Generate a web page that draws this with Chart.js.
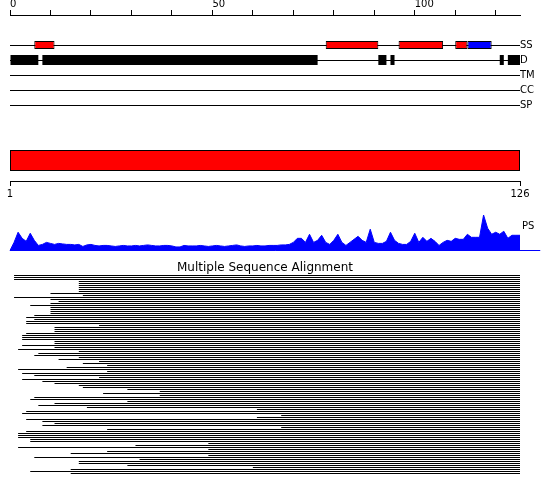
<!DOCTYPE html>
<html>
<head>
<meta charset="utf-8">
<script src="https://cdn.jsdelivr.net/npm/chart.js@4.4.1/dist/chart.umd.min.js"></script>
<style>
  html, body { margin: 0; padding: 0; background: #fff; }
  #wrap { position: relative; width: 550px; height: 495px; overflow: hidden; }
  canvas { position: absolute; left: 0; }
</style>
</head>
<body>
<div id="wrap">
  <canvas id="tracks" width="550" height="115" style="top:0px"></canvas>
  <canvas id="domain" width="550" height="75" style="top:130px"></canvas>
  <canvas id="ps" width="550" height="50" style="top:205px"></canvas>
  <canvas id="msa" width="550" height="234" style="top:261px"></canvas>
</div>
<script>
// sequence + feature tracks
const seqLength = 126;
const trackLabels = ['', '', 'SS', 'D', 'TM', 'CC', 'SP'];
const helixSegments = [[6, 11], [78, 91], [96, 107], [110, 113]];
const strandSegments = [[113, 119]];
const disorderSegments = [[0, 7], [8, 76], [91, 93], [94, 95], [121, 122], [123, 126]];
const domainSegments = [[1, 126]];

// prediction strength per position (0..127)
const psScores = [
  0, 8, 18, 12, 9, 17, 10, 5, 6, 8,
  7, 6, 7, 6.5, 6, 6, 5.5, 6, 4, 5.5,
  6, 5, 4.5, 5, 5, 4.5, 4, 4.5, 5, 4.5,
  4.5, 5, 4.5, 5, 5.5, 5, 4.5, 4.5, 5, 5,
  4.5, 3.5, 3.5, 5, 4.5, 4.5, 4.5, 5, 4.5, 4,
  4.5, 5, 4.5, 4, 4.5, 5, 5.5, 4.5, 4, 4.5,
  4.5, 5, 4.5, 4.5, 5, 5, 5, 5.5, 5.5, 6,
  8, 12, 12, 8, 16, 8, 10, 15, 8, 6,
  10, 16, 8, 5, 8, 11, 14, 10, 8, 21,
  8, 7, 7, 9, 18, 10, 7, 6, 6, 9,
  17, 8, 13, 9, 12, 9, 5, 8, 10, 9,
  12, 11, 11, 16, 13, 13, 13, 35, 22, 16,
  18, 16, 19, 12, 15, 15, 15, 0
];

// first aligned position of each homolog in the MSA
const msaStarts = [
  1, 1, 1, 17, 17, 17, 17, 17, 17, 10,
  18, 1, 10, 12, 10, 5, 10, 10, 10, 10,
  6, 4, 6, 4, 4, 22, 11, 11, 11, 4,
  3, 3, 3, 11, 11, 3, 11, 2, 17, 7,
  6, 17, 12, 22, 18, 24, 14, 2, 24, 3,
  6, 22, 3, 8, 11, 17, 18, 29, 37, 23,
  37, 6, 5, 29, 11, 7, 19, 61, 4, 3,
  67, 61, 4, 8, 11, 8, 67, 24, 4, 2,
  2, 2, 5, 5, 49, 31, 2, 49, 24, 15,
  49, 6, 32, 17, 17, 29, 60, 15, 5, 15
];

Chart.defaults.font.family = "'DejaVu Sans', sans-serif";
Chart.defaults.font.size = 10;
Chart.defaults.color = '#000';
Chart.defaults.animation = false;
Chart.defaults.plugins.legend.display = false;
Chart.defaults.plugins.tooltip.enabled = false;

// top ruler + SS / D / TM / CC / SP tracks
new Chart(document.getElementById('tracks'), {
    type: 'bar',
    data: {
        datasets: [{
            data: helixSegments.map(s => ({ x: s, y: 'SS' })),
            backgroundColor: '#ff0000',
            borderColor: '#000',
            borderWidth: 1,
            borderSkipped: false,
            barThickness: 8,
        }, {
            data: strandSegments.map(s => ({ x: s, y: 'SS' })),
            backgroundColor: '#0000ff',
            borderColor: '#000',
            borderWidth: 1,
            borderSkipped: false,
            barThickness: 8,
        }, {
            data: disorderSegments.map(s => ({ x: s, y: 'D' })),
            backgroundColor: '#000',
            borderWidth: 0,
            barThickness: 10,
        }]
    },
    options: {
        indexAxis: 'y',
        responsive: false,
        layout: { padding: { left: 10, top: 0, right: 0, bottom: 10 } },
        datasets: { bar: { grouped: false, inflateAmount: 0 } },
        scales: {
            x: {
                type: 'linear',
                position: 'top',
                min: 0,
                max: seqLength,
                afterFit: s => { s.height = 15; },
                border: { color: '#000' },
                grid: { drawOnChartArea: false, color: '#000', tickLength: 5 },
                ticks: {
                    stepSize: 10,
                    includeBounds: false,
                    align: 'start',
                    padding: 0,
                    autoSkip: false,
                    maxRotation: 0,
                    callback: v => (v % 50 === 0 ? String(v) : ''),
                },
            },
            y: {
                type: 'category',
                labels: trackLabels,
                position: 'right',
                offset: false,
                afterFit: s => { s.width = 30; },
                border: { display: false },
                grid: {
                    offset: false,
                    drawTicks: false,
                    color: c => (c.index < 2 ? 'rgba(0,0,0,0)' : '#000'),
                },
                ticks: { padding: 0, autoSkip: false },
            }
        }
    }
});

// domain bar + 1..126 ruler
new Chart(document.getElementById('domain'), {
    type: 'bar',
    data: {
        labels: ['domain'],
        datasets: [{
            data: domainSegments.map(s => ({ x: s, y: 'domain' })),
            backgroundColor: '#ff0000',
            borderColor: '#000',
            borderWidth: 1,
            borderSkipped: false,
            barThickness: 21,
            inflateAmount: 0,
        }]
    },
    options: {
        indexAxis: 'y',
        responsive: false,
        layout: { padding: { left: 10, right: 30, top: 10, bottom: 0 } },
        scales: {
            x: {
                type: 'linear',
                position: 'bottom',
                min: 1,
                max: seqLength,
                afterFit: s => { s.height = 24; },
                afterBuildTicks: s => { s.ticks = [{ value: 1 }, { value: seqLength }]; },
                border: { color: '#000' },
                grid: { drawOnChartArea: false, color: '#000', tickLength: 5 },
                ticks: { padding: 2, autoSkip: false, maxRotation: 0 },
            },
            y: { type: 'category', display: false }
        }
    }
});

// PS profile
new Chart(document.getElementById('ps'), {
    type: 'line',
    data: {
        datasets: [{
            data: psScores.map((v, i) => ({ x: i, y: v })),
            fill: 'origin',
            backgroundColor: '#0000ff',
            borderColor: '#0000ff',
            borderWidth: 1,
            pointRadius: 0,
            tension: 0,
            clip: false,
        }, {
            data: [{ x: 0, y: 0 }, { x: seqLength + 5, y: 0 }],
            borderColor: '#0000ff',
            borderWidth: 1,
            pointRadius: 0,
            fill: false,
            clip: false,
        }]
    },
    options: {
        responsive: false,
        layout: { padding: { left: 10, top: 10, bottom: 4.5, right: 0 } },
        scales: {
            x: { type: 'linear', min: 0, max: seqLength, display: false },
            y: {
                min: 0,
                max: 35,
                position: 'right',
                afterFit: s => { s.width = 30; s.paddingTop = 0; s.paddingBottom = 0; },
                afterBuildTicks: s => { s.ticks = [{ value: 24 }]; },
                border: { display: false },
                grid: { display: false, drawTicks: false },
                ticks: { padding: 2, callback: () => 'PS' },
            }
        }
    }
});

// multiple sequence alignment coverage
const msaRows = msaStarts.map((s, i) => 'seq' + (i + 1));
new Chart(document.getElementById('msa'), {
    type: 'bar',
    data: {
        labels: msaRows,
        datasets: [{
            data: msaStarts.map(s => [s, seqLength]),
            backgroundColor: '#000',
            borderWidth: 0,
            barThickness: 1,
            inflateAmount: 0,
        }]
    },
    options: {
        indexAxis: 'y',
        responsive: false,
        layout: { padding: { left: 10, right: 30, top: 0.5, bottom: 20.5 } },
        plugins: {
            title: {
                display: true,
                text: 'Multiple Sequence Alignment',
                color: '#000',
                font: { size: 12, weight: 'normal', lineHeight: 1 },
                padding: { top: 0, bottom: 1 },
            }
        },
        scales: {
            x: { type: 'linear', min: 0, max: seqLength, display: false },
            y: { display: false }
        }
    }
});
</script>
</body>
</html>
